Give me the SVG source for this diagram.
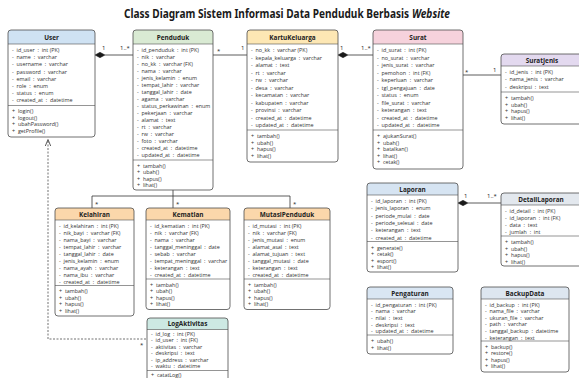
<svg xmlns="http://www.w3.org/2000/svg" width="579" height="378" viewBox="0 0 579 378">
<defs>
<style>
.bg{fill:#ffffff}
.box{fill:none;stroke:#4d4d4d;stroke-width:0.8}
.sep{stroke:#4d4d4d;stroke-width:0.6}
.ht{font-family:"Open Sans","Noto Sans",sans-serif;font-weight:bold;font-size:6.4px;fill:#222;text-anchor:middle}
.a{font-family:"Open Sans","Noto Sans",sans-serif;font-size:5.4px;fill:#333}
.ln{stroke:#333;stroke-width:0.8;fill:none}
.dash{stroke:#333;stroke-width:0.7;fill:none;stroke-dasharray:2 1.5}
.lb{font-family:"Open Sans","Noto Sans",sans-serif;font-size:6px;fill:#222}
.dm{fill:#1a1a1a;stroke:#1a1a1a;stroke-width:0.5}
.tt{font-family:"Noto Sans","Open Sans",sans-serif;font-weight:bold;font-size:11.5px;fill:#1a1a1a}
</style>
</defs>
<rect width="579" height="378" fill="#ffffff"/>
<text class="tt" transform="translate(124 17.5) scale(0.878 1)" x="0" y="0">Class Diagram Sistem Informasi Data Penduduk Berbasis</text>
<text class="tt" transform="translate(450 17.5) scale(0.88 1)" x="0" y="0" text-anchor="end" font-style="italic">Website</text>

<g id="connectors">
<line class="ln" x1="105" y1="55" x2="133" y2="55"/>
<polygon class="dm" points="95,55 100,52.3 105,55 100,57.7"/>
<text class="lb" x="102" y="50">1</text>
<text class="lb" x="120" y="50">1..*</text>
<line class="ln" x1="213" y1="55" x2="247" y2="55"/>
<text class="lb" x="217" y="53">*</text>
<text class="lb" x="241" y="50">1</text>
<line class="ln" x1="348" y1="55" x2="373" y2="55"/>
<polygon class="dm" points="338,55 343,52.3 348,55 343,57.7"/>
<text class="lb" x="340" y="50">1</text>
<text class="lb" x="361" y="50">1..*</text>
<line class="ln" x1="463" y1="75" x2="501" y2="75"/>
<text class="lb" x="465" y="74">*</text>
<text class="lb" x="493" y="72">1</text>
<line class="ln" x1="173" y1="190" x2="173" y2="208"/>
<line class="ln" x1="92" y1="196" x2="290" y2="196"/>
<line class="ln" x1="92" y1="196" x2="92" y2="208"/>
<line class="ln" x1="290" y1="196" x2="290" y2="208"/>
<text class="lb" x="95" y="206">*</text>
<text class="lb" x="176" y="206">*</text>
<text class="lb" x="293" y="206">*</text>
<line class="ln" x1="468" y1="203" x2="501" y2="203"/>
<polygon class="dm" points="458,203 463,200.3 468,203 463,205.7"/>
<text class="lb" x="464" y="198">1</text>
<text class="lb" x="487" y="198">1..*</text>
<polyline class="dash" points="48,141 48,339 147,339"/>
<polyline class="ln" points="45.3,146 48,139.5 50.7,146"/>
<text class="lb" x="140" y="347">*</text>
</g>

<g id="user">
<rect class="bg" x="8" y="30" width="87" height="107" rx="3"/>
<path d="M8,44 V33 Q8,30 11,30 H92 Q95,30 95,33 V44 Z" fill="#cfe2f3"/>
<line class="sep" x1="8" y1="44" x2="95" y2="44"/>
<line class="sep" x1="8" y1="105.5" x2="95" y2="105.5"/>
<rect class="box" x="8" y="30" width="87" height="107" rx="3"/>
<text class="ht" x="51.5" y="39.5">User</text>
<text class="a" xml:space="preserve"><tspan x="12" y="52">-  id_user  :  int (PK)</tspan><tspan x="12" y="59.2">-  name  :  varchar</tspan><tspan x="12" y="66.4">-  username  :  varchar</tspan><tspan x="12" y="73.6">-  password  :  varchar</tspan><tspan x="12" y="80.8">-  email  :  varchar</tspan><tspan x="12" y="88">-  role  :  enum</tspan><tspan x="12" y="95.2">-  status  :  enum</tspan><tspan x="12" y="102.4">-  created_at  :  datetime</tspan></text>
<text class="a" xml:space="preserve"><tspan x="12" y="113">+  login()</tspan><tspan x="12" y="119.5">+  logout()</tspan><tspan x="12" y="126">+  ubahPassword()</tspan><tspan x="12" y="132.5">+  getProfile()</tspan></text>
</g>

<g id="penduduk">
<rect class="bg" x="133" y="30" width="80" height="160" rx="3"/>
<path d="M133,44 V33 Q133,30 136,30 H210 Q213,30 213,33 V44 Z" fill="#d9ead3"/>
<line class="sep" x1="133" y1="44" x2="213" y2="44"/>
<line class="sep" x1="133" y1="160" x2="213" y2="160"/>
<rect class="box" x="133" y="30" width="80" height="160" rx="3"/>
<text class="ht" x="173" y="39.5">Penduduk</text>
<text class="a" xml:space="preserve"><tspan x="137" y="52">-  id_penduduk  :  int (PK)</tspan><tspan x="137" y="59">-  nik  :  varchar</tspan><tspan x="137" y="66">-  no_kk  :  varchar (FK)</tspan><tspan x="137" y="73">-  nama  :  varchar</tspan><tspan x="137" y="80">-  jenis_kelamin  :  enum</tspan><tspan x="137" y="87">-  tempat_lahir  :  varchar</tspan><tspan x="137" y="94">-  tanggal_lahir  :  date</tspan><tspan x="137" y="101">-  agama  :  varchar</tspan><tspan x="137" y="108">-  status_perkawinan  :  enum</tspan><tspan x="137" y="115">-  pekerjaan  :  varchar</tspan><tspan x="137" y="122">-  alamat  :  text</tspan><tspan x="137" y="129">-  rt  :  varchar</tspan><tspan x="137" y="136">-  rw  :  varchar</tspan><tspan x="137" y="143">-  foto  :  varchar</tspan><tspan x="137" y="150">-  created_at  :  datetime</tspan><tspan x="137" y="157">-  updated_at  :  datetime</tspan></text>
<text class="a" xml:space="preserve"><tspan x="137" y="167.5">+  tambah()</tspan><tspan x="137" y="174">+  ubah()</tspan><tspan x="137" y="180.5">+  hapus()</tspan><tspan x="137" y="187">+  lihat()</tspan></text>
</g>

<g id="kartukeluarga">
<rect class="bg" x="247" y="30" width="91" height="132" rx="3"/>
<path d="M247,44 V33 Q247,30 250,30 H335 Q338,30 338,33 V44 Z" fill="#fde7b4"/>
<line class="sep" x1="247" y1="44" x2="338" y2="44"/>
<line class="sep" x1="247" y1="130" x2="338" y2="130"/>
<rect class="box" x="247" y="30" width="91" height="132" rx="3"/>
<text class="ht" x="292.5" y="39.5">KartuKeluarga</text>
<text class="a" xml:space="preserve"><tspan x="251" y="52">-  no_kk  :  varchar (PK)</tspan><tspan x="251" y="59.5">-  kepala_keluarga  :  varchar</tspan><tspan x="251" y="67">-  alamat  :  text</tspan><tspan x="251" y="74.5">-  rt  :  varchar</tspan><tspan x="251" y="82">-  rw  :  varchar</tspan><tspan x="251" y="89.5">-  desa  :  varchar</tspan><tspan x="251" y="97">-  kecamatan  :  varchar</tspan><tspan x="251" y="104.5">-  kabupaten  :  varchar</tspan><tspan x="251" y="112">-  provinsi  :  varchar</tspan><tspan x="251" y="119.5">-  created_at  :  datetime</tspan><tspan x="251" y="127">-  updated_at  :  datetime</tspan></text>
<text class="a" xml:space="preserve"><tspan x="251" y="138">+  tambah()</tspan><tspan x="251" y="144.5">+  ubah()</tspan><tspan x="251" y="151">+  hapus()</tspan><tspan x="251" y="157.5">+  lihat()</tspan></text>
</g>

<g id="surat">
<rect class="bg" x="373" y="30" width="90" height="139" rx="3"/>
<path d="M373,44 V33 Q373,30 376,30 H460 Q463,30 463,33 V44 Z" fill="#f6d2dc"/>
<line class="sep" x1="373" y1="44" x2="463" y2="44"/>
<line class="sep" x1="373" y1="130" x2="463" y2="130"/>
<rect class="box" x="373" y="30" width="90" height="139" rx="3"/>
<text class="ht" x="418" y="39.5">Surat</text>
<text class="a" xml:space="preserve"><tspan x="377" y="52">-  id_surat  :  int (PK)</tspan><tspan x="377" y="59.5">-  no_surat  :  varchar</tspan><tspan x="377" y="67">-  jenis_surat  :  varchar</tspan><tspan x="377" y="74.5">-  pemohon  :  int (FK)</tspan><tspan x="377" y="82">-  keperluan  :  varchar</tspan><tspan x="377" y="89.5">-  tgl_pengajuan  :  date</tspan><tspan x="377" y="97">-  status  :  enum</tspan><tspan x="377" y="104.5">-  file_surat  :  varchar</tspan><tspan x="377" y="112">-  keterangan  :  text</tspan><tspan x="377" y="119.5">-  created_at  :  datetime</tspan><tspan x="377" y="127">-  updated_at  :  datetime</tspan></text>
<text class="a" xml:space="preserve"><tspan x="377" y="138">+  ajukanSurat()</tspan><tspan x="377" y="144.5">+  ubah()</tspan><tspan x="377" y="151">+  batalkan()</tspan><tspan x="377" y="157.5">+  lihat()</tspan><tspan x="377" y="164">+  cetak()</tspan></text>
</g>

<g id="suratjenis">
<rect class="bg" x="501" y="54" width="82" height="70" rx="3"/>
<path d="M501,66 V57 Q501,54 504,54 H580 Q583,54 583,57 V66 Z" fill="#e3d9ef"/>
<line class="sep" x1="501" y1="66" x2="583" y2="66"/>
<line class="sep" x1="501" y1="92" x2="583" y2="92"/>
<rect class="box" x="501" y="54" width="82" height="70" rx="3"/>
<text class="ht" x="542" y="62.5">SuratJenis</text>
<text class="a" xml:space="preserve"><tspan x="505" y="74">-  id_jenis  :  int (PK)</tspan><tspan x="505" y="81.3">-  nama_jenis  :  varchar</tspan><tspan x="505" y="88.6">-  deskripsi  :  text</tspan></text>
<text class="a" xml:space="preserve"><tspan x="505" y="100">+  tambah()</tspan><tspan x="505" y="106.5">+  ubah()</tspan><tspan x="505" y="113">+  hapus()</tspan><tspan x="505" y="119.5">+  lihat()</tspan></text>
</g>

<g id="kelahiran">
<rect class="bg" x="55" y="208" width="79" height="108" rx="3"/>
<path d="M55,220 V211 Q55,208 58,208 H131 Q134,208 134,211 V220 Z" fill="#fbd7ab"/>
<line class="sep" x1="55" y1="220" x2="134" y2="220"/>
<line class="sep" x1="55" y1="285.5" x2="134" y2="285.5"/>
<rect class="box" x="55" y="208" width="79" height="108" rx="3"/>
<text class="ht" x="94.5" y="216.5">Kelahiran</text>
<text class="a" xml:space="preserve"><tspan x="59" y="228">-  id_kelahiran  :  int (PK)</tspan><tspan x="59" y="235">-  nik_bayi  :  varchar (FK)</tspan><tspan x="59" y="242">-  nama_bayi  :  varchar</tspan><tspan x="59" y="249">-  tempat_lahir  :  varchar</tspan><tspan x="59" y="256">-  tanggal_lahir  :  date</tspan><tspan x="59" y="263">-  jenis_kelamin  :  enum</tspan><tspan x="59" y="270">-  nama_ayah  :  varchar</tspan><tspan x="59" y="277">-  nama_ibu  :  varchar</tspan><tspan x="59" y="284">-  created_at  :  datetime</tspan></text>
<text class="a" xml:space="preserve"><tspan x="59" y="293">+  tambah()</tspan><tspan x="59" y="299.5">+  ubah()</tspan><tspan x="59" y="306">+  hapus()</tspan><tspan x="59" y="312.5">+  lihat()</tspan></text>
</g>

<g id="kematian">
<rect class="bg" x="146" y="208" width="84" height="101.5" rx="3"/>
<path d="M146,220 V211 Q146,208 149,208 H227 Q230,208 230,211 V220 Z" fill="#fbd7ab"/>
<line class="sep" x1="146" y1="220" x2="230" y2="220"/>
<line class="sep" x1="146" y1="279" x2="230" y2="279"/>
<rect class="box" x="146" y="208" width="84" height="101.5" rx="3"/>
<text class="ht" x="188" y="216.5">Kematian</text>
<text class="a" xml:space="preserve"><tspan x="150" y="228">-  id_kematian  :  int (PK)</tspan><tspan x="150" y="235">-  nik  :  varchar (FK)</tspan><tspan x="150" y="242">-  nama  :  varchar</tspan><tspan x="150" y="249">-  tanggal_meninggal  :  date</tspan><tspan x="150" y="256">-  sebab  :  varchar</tspan><tspan x="150" y="263">-  tempat_meninggal  :  varchar</tspan><tspan x="150" y="270">-  keterangan  :  text</tspan><tspan x="150" y="277">-  created_at  :  datetime</tspan></text>
<text class="a" xml:space="preserve"><tspan x="150" y="286.5">+  tambah()</tspan><tspan x="150" y="293">+  ubah()</tspan><tspan x="150" y="299.5">+  hapus()</tspan><tspan x="150" y="306">+  lihat()</tspan></text>
</g>

<g id="mutasipenduduk">
<rect class="bg" x="244" y="208" width="86" height="101.5" rx="3"/>
<path d="M244,220 V211 Q244,208 247,208 H327 Q330,208 330,211 V220 Z" fill="#fbd7ab"/>
<line class="sep" x1="244" y1="220" x2="330" y2="220"/>
<line class="sep" x1="244" y1="279" x2="330" y2="279"/>
<rect class="box" x="244" y="208" width="86" height="101.5" rx="3"/>
<text class="ht" x="287" y="216.5">MutasiPenduduk</text>
<text class="a" xml:space="preserve"><tspan x="248" y="228">-  id_mutasi  :  int (PK)</tspan><tspan x="248" y="235">-  nik  :  varchar (FK)</tspan><tspan x="248" y="242">-  jenis_mutasi  :  enum</tspan><tspan x="248" y="249">-  alamat_asal  :  text</tspan><tspan x="248" y="256">-  alamat_tujuan  :  text</tspan><tspan x="248" y="263">-  tanggal_mutasi  :  date</tspan><tspan x="248" y="270">-  keterangan  :  text</tspan><tspan x="248" y="277">-  created_at  :  datetime</tspan></text>
<text class="a" xml:space="preserve"><tspan x="248" y="286.5">+  tambah()</tspan><tspan x="248" y="293">+  ubah()</tspan><tspan x="248" y="299.5">+  hapus()</tspan><tspan x="248" y="306">+  lihat()</tspan></text>
</g>

<g id="laporan">
<rect class="bg" x="367" y="183" width="91" height="89" rx="3"/>
<path d="M367,195 V186 Q367,183 370,183 H455 Q458,183 458,186 V195 Z" fill="#d6e4f2"/>
<line class="sep" x1="367" y1="195" x2="458" y2="195"/>
<line class="sep" x1="367" y1="241.5" x2="458" y2="241.5"/>
<rect class="box" x="367" y="183" width="91" height="89" rx="3"/>
<text class="ht" x="412.5" y="191.5">Laporan</text>
<text class="a" xml:space="preserve"><tspan x="371" y="203">-  id_laporan  :  int (PK)</tspan><tspan x="371" y="210.3">-  jenis_laporan  :  enum</tspan><tspan x="371" y="217.6">-  periode_mulai  :  date</tspan><tspan x="371" y="224.9">-  periode_selesai  :  date</tspan><tspan x="371" y="232.2">-  keterangan  :  text</tspan><tspan x="371" y="239.5">-  created_at  :  datetime</tspan></text>
<text class="a" xml:space="preserve"><tspan x="371" y="249.5">+  generate()</tspan><tspan x="371" y="256">+  cetak()</tspan><tspan x="371" y="262.5">+  esport()</tspan><tspan x="371" y="269">+  lihat()</tspan></text>
</g>

<g id="detaillaporan">
<rect class="bg" x="501" y="193" width="82" height="73" rx="3"/>
<path d="M501,205 V196 Q501,193 504,193 H580 Q583,193 583,196 V205 Z" fill="#e3e8ee"/>
<line class="sep" x1="501" y1="205" x2="583" y2="205"/>
<line class="sep" x1="501" y1="236" x2="583" y2="236"/>
<rect class="box" x="501" y="193" width="82" height="73" rx="3"/>
<text class="ht" x="541" y="201.5">DetailLaporan</text>
<text class="a" xml:space="preserve"><tspan x="505" y="213">-  id_detail  :  int (PK)</tspan><tspan x="505" y="220">-  id_laporan  :  int (FK)</tspan><tspan x="505" y="227">-  data  :  text</tspan><tspan x="505" y="234">-  jumlah  :  int</tspan></text>
<text class="a" xml:space="preserve"><tspan x="505" y="244">+  tambah()</tspan><tspan x="505" y="250.5">+  ubah()</tspan><tspan x="505" y="257">+  hapus()</tspan><tspan x="505" y="263.5">+  lihat()</tspan></text>
</g>

<g id="logaktivitas">
<rect class="bg" x="147" y="318" width="81" height="75" rx="3"/>
<path d="M147,329.5 V321 Q147,318 150,318 H225 Q228,318 228,321 V329.5 Z" fill="#cde9e3"/>
<line class="sep" x1="147" y1="329.5" x2="228" y2="329.5"/>
<line class="sep" x1="147" y1="370.5" x2="228" y2="370.5"/>
<rect class="box" x="147" y="318" width="81" height="75" rx="3"/>
<text class="ht" x="187.5" y="326.3">LogAktivitas</text>
<text class="a" xml:space="preserve"><tspan x="151" y="335.5">-  id_log  :  int (PK)</tspan><tspan x="151" y="342">-  id_user  :  int (FK)</tspan><tspan x="151" y="348.5">-  aktivitas  :  varchar</tspan><tspan x="151" y="355">-  deskripsi  :  text</tspan><tspan x="151" y="361.5">-  ip_address  :  varchar</tspan><tspan x="151" y="368">-  waktu  :  datetime</tspan></text>
<text class="a" xml:space="preserve"><tspan x="151" y="377">+  catatLog()</tspan></text>
</g>

<g id="pengaturan">
<rect class="bg" x="367" y="287" width="86" height="67" rx="3"/>
<path d="M367,299 V290 Q367,287 370,287 H450 Q453,287 453,290 V299 Z" fill="#d9e6f3"/>
<line class="sep" x1="367" y1="299" x2="453" y2="299"/>
<line class="sep" x1="367" y1="335" x2="453" y2="335"/>
<rect class="box" x="367" y="287" width="86" height="67" rx="3"/>
<text class="ht" x="410" y="295.5">Pengaturan</text>
<text class="a" xml:space="preserve"><tspan x="371" y="306.5">-  id_pengaturan  :  int (PK)</tspan><tspan x="371" y="313.2">-  nama  :  varchar</tspan><tspan x="371" y="319.9">-  nilai  :  text</tspan><tspan x="371" y="326.6">-  deskripsi  :  text</tspan><tspan x="371" y="333.3">-  updated_at  :  datetime</tspan></text>
<text class="a" xml:space="preserve"><tspan x="371" y="343">+  ubah()</tspan><tspan x="371" y="349.5">+  lihat()</tspan></text>
</g>

<g id="backupdata">
<rect class="bg" x="481" y="287" width="88" height="85" rx="3"/>
<path d="M481,299 V290 Q481,287 484,287 H566 Q569,287 569,290 V299 Z" fill="#dde6f0"/>
<line class="sep" x1="481" y1="299" x2="569" y2="299"/>
<line class="sep" x1="481" y1="341" x2="569" y2="341"/>
<rect class="box" x="481" y="287" width="88" height="85" rx="3"/>
<text class="ht" x="525" y="295.5">BackupData</text>
<text class="a" xml:space="preserve"><tspan x="485" y="306.5">-  id_backup  :  int (PK)</tspan><tspan x="485" y="313.1">-  nama_file  :  varchar</tspan><tspan x="485" y="319.7">-  ukuran_file  :  varchar</tspan><tspan x="485" y="326.3">-  path  :  varchar</tspan><tspan x="485" y="332.9">-  tanggal_backup  :  datetime</tspan><tspan x="485" y="339.5">-  keterangan  :  text</tspan></text>
<text class="a" xml:space="preserve"><tspan x="485" y="348.5">+  backup()</tspan><tspan x="485" y="355">+  restore()</tspan><tspan x="485" y="361.5">+  hapus()</tspan><tspan x="485" y="368">+  lihat()</tspan></text>
</g>
</svg>
